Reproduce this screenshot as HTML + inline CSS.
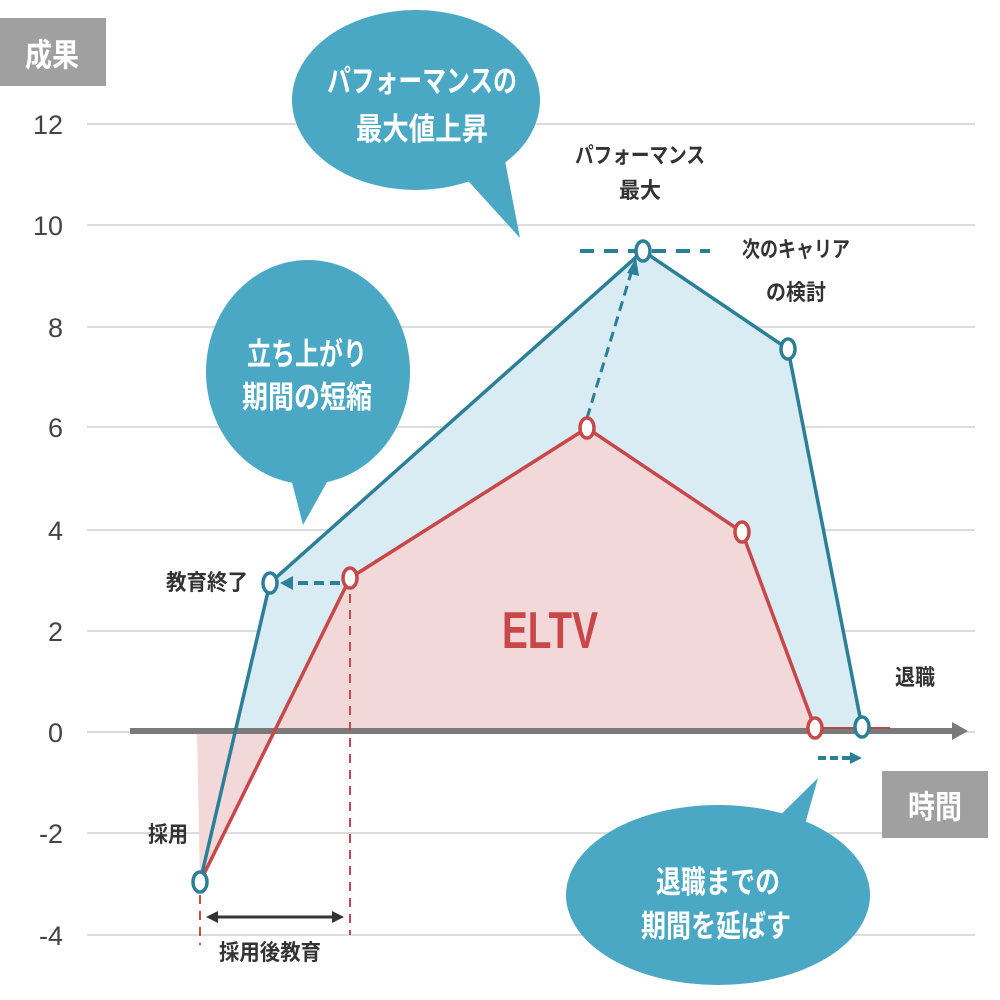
<!DOCTYPE html>
<html><head><meta charset="utf-8"><style>
html,body{margin:0;padding:0;background:#fff;}
svg{display:block;}
text{font-family:"Liberation Sans","Noto Sans CJK JP",sans-serif;}
</style></head><body>
<svg width="1000" height="1000" viewBox="0 0 1000 1000" xmlns="http://www.w3.org/2000/svg">
<g stroke="#dcdcdc" stroke-width="2">
<line x1="87" y1="124" x2="975" y2="124"/>
<line x1="87" y1="225" x2="975" y2="225"/>
<line x1="87" y1="327" x2="975" y2="327"/>
<line x1="87" y1="427" x2="975" y2="427"/>
<line x1="87" y1="530" x2="975" y2="530"/>
<line x1="87" y1="631" x2="975" y2="631"/>
<line x1="87" y1="732" x2="975" y2="732"/>
<line x1="87" y1="833" x2="975" y2="833"/>
<line x1="87" y1="935" x2="975" y2="935"/>
</g>
<g font-size="27" fill="#444" text-anchor="end">
<text x="63" y="134" textLength="30" lengthAdjust="spacingAndGlyphs">12</text>
<text x="63" y="235" textLength="30" lengthAdjust="spacingAndGlyphs">10</text>
<text x="63" y="337">8</text>
<text x="63" y="437">6</text>
<text x="63" y="540">4</text>
<text x="63" y="641">2</text>
<text x="63" y="742">0</text>
<text x="63" y="843">-2</text>
<text x="63" y="945">-4</text>
</g>
<rect x="0" y="18" width="106" height="68" fill="#a0a0a0"/>
<text x="52" y="66" font-size="32" fill="#fff" text-anchor="middle" font-weight="bold" textLength="54" lengthAdjust="spacingAndGlyphs">成果</text>
<rect x="882" y="771" width="106" height="67" fill="#a0a0a0"/>
<text x="935" y="818" font-size="32" fill="#fff" text-anchor="middle" font-weight="bold" textLength="54" lengthAdjust="spacingAndGlyphs">時間</text>
<polygon points="235,732 270,583 643,251 788,349 862,727 862,732" fill="#d9ecf3"/>
<polygon points="197,732 200,882 273,732" fill="#f2d8d9"/>
<polygon points="273,732 350,578 587,428 742,532 815,728 815,732" fill="#f2d8d9"/>
<line x1="130" y1="731" x2="955" y2="731" stroke="#7a7a7a" stroke-width="6"/>
<polygon points="952,722 968,731 952,740" fill="#7a7a7a"/>
<line x1="815" y1="728" x2="890" y2="728" stroke="#b04a4a" stroke-width="2"/>
<line x1="350" y1="578" x2="350" y2="935" stroke="#c8484a" stroke-width="2" stroke-dasharray="9,7"/>
<line x1="200" y1="895" x2="200" y2="945" stroke="#c8484a" stroke-width="2" stroke-dasharray="9,7"/>
<line x1="340" y1="583" x2="290" y2="583" stroke="#2b7f96" stroke-width="4" stroke-dasharray="10,6"/>
<polygon points="280,583 293,576 293,590" fill="#2b7f96"/>
<line x1="587" y1="418" x2="632" y2="270" stroke="#2b7f96" stroke-width="3" stroke-dasharray="10,6"/>
<polygon points="636,258 627,273 639,276" fill="#2b7f96"/>
<line x1="580" y1="251" x2="710" y2="251" stroke="#2b7f96" stroke-width="4" stroke-dasharray="14,10"/>
<line x1="818" y1="758" x2="850" y2="758" stroke="#2b7f96" stroke-width="4" stroke-dasharray="8,4"/>
<polygon points="862,758 850,752 850,764" fill="#2b7f96"/>
<line x1="215" y1="917" x2="335" y2="917" stroke="#333" stroke-width="3"/>
<polygon points="206,917 218,911 218,923" fill="#333"/>
<polygon points="344,917 332,911 332,923" fill="#333"/>
<polyline points="200,882 350,578 587,428 742,532 815,728" fill="none" stroke="#c8484a" stroke-width="3.5"/>
<polyline points="200,882 270,583 643,251 788,349 862,727" fill="none" stroke="#2b7f96" stroke-width="3.5"/>
<g fill="#fff" stroke-width="3.5">
<ellipse cx="350" cy="578" rx="7" ry="10" stroke="#c8484a"/>
<ellipse cx="587" cy="428" rx="7" ry="10" stroke="#c8484a"/>
<ellipse cx="742" cy="532" rx="7" ry="10" stroke="#c8484a"/>
<ellipse cx="815" cy="728" rx="7" ry="10" stroke="#c8484a"/>
<ellipse cx="200" cy="882" rx="7" ry="10" stroke="#2b7f96"/>
<ellipse cx="270" cy="583" rx="7" ry="10" stroke="#2b7f96"/>
<ellipse cx="643" cy="251" rx="7" ry="10" stroke="#2b7f96"/>
<ellipse cx="788" cy="349" rx="7" ry="10" stroke="#2b7f96"/>
<ellipse cx="862" cy="727" rx="7" ry="10" stroke="#2b7f96"/>
</g>
<g fill="#4aa8c4">
<ellipse cx="416" cy="100" rx="124" ry="90"/>
<polygon points="460,172 520,238 500,135"/>
<ellipse cx="308" cy="372" rx="102" ry="112"/>
<polygon points="285,455 303,525 345,450"/>
<ellipse cx="718" cy="895" rx="152" ry="90"/>
<polygon points="760,835 818,778 795,860"/>
</g>
<g fill="#fff" font-size="31" text-anchor="middle" font-weight="bold">
<text x="422" y="92" textLength="190" lengthAdjust="spacingAndGlyphs">パフォーマンスの</text>
<text x="422" y="140" textLength="132" lengthAdjust="spacingAndGlyphs">最大値上昇</text>
<text x="307" y="365" textLength="120" lengthAdjust="spacingAndGlyphs">立ち上がり</text>
<text x="307" y="408" textLength="130" lengthAdjust="spacingAndGlyphs">期間の短縮</text>
<text x="718" y="893" textLength="124" lengthAdjust="spacingAndGlyphs">退職までの</text>
<text x="716" y="937" textLength="150" lengthAdjust="spacingAndGlyphs">期間を延ばす</text>
</g>
<g fill="#333" font-size="22" text-anchor="middle" font-weight="bold">
<text x="640" y="163" textLength="130" lengthAdjust="spacingAndGlyphs">パフォーマンス</text>
<text x="640" y="198" textLength="42" lengthAdjust="spacingAndGlyphs">最大</text>
<text x="796" y="257" textLength="108" lengthAdjust="spacingAndGlyphs">次のキャリア</text>
<text x="796" y="300" textLength="60" lengthAdjust="spacingAndGlyphs">の検討</text>
<text x="207" y="590" textLength="82" lengthAdjust="spacingAndGlyphs">教育終了</text>
<text x="168" y="842" textLength="40" lengthAdjust="spacingAndGlyphs">採用</text>
<text x="270" y="960" textLength="102" lengthAdjust="spacingAndGlyphs">採用後教育</text>
<text x="915" y="685" textLength="40" lengthAdjust="spacingAndGlyphs">退職</text>
</g>
<text x="550" y="648" font-size="52" font-weight="bold" fill="#c8484a" text-anchor="middle" textLength="96" lengthAdjust="spacingAndGlyphs">ELTV</text>
</svg>
</body></html>
